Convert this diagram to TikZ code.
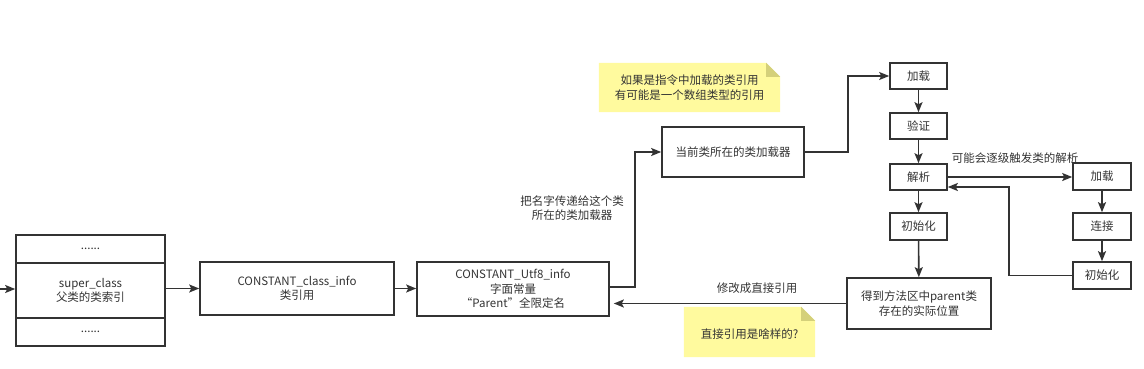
\documentclass[tikz,border=0pt]{standalone}
\usepackage{fontspec}
\setmainfont{Noto Sans CJK SC}
\usetikzlibrary{arrows.meta,positioning,calc}
\definecolor{ink}{HTML}{333333}
\definecolor{noteY}{HTML}{FFFA9E}
\definecolor{noteF}{HTML}{D4D07A}
\begin{document}
\begin{tikzpicture}[x=1pt,y=-1pt,
  every node/.style={font=\fontsize{11.5}{14.5}\selectfont, text=ink, align=center, inner sep=0pt},
  box/.style={draw=ink, line width=1.6pt, fill=white},
  arr/.style={draw=ink, line width=1.6pt, -{Stealth[length=10pt,width=8pt,inset=2pt]}},
  ln/.style={draw=ink, line width=1.6pt}
]
\useasboundingbox (0,0) rectangle (1144,369);

% left stacked box
\node[box, minimum width=149pt, minimum height=28pt] (lt) at (90.5,249) {......};
\node[box, minimum width=149pt, minimum height=55pt] (lm) at (90.5,290.5) {super\_class\\父类的类索引};
\node[box, minimum width=149pt, minimum height=28pt] (lb) at (90.5,332) {......};

\node[box, minimum width=194pt, minimum height=53pt] (ci) at (297,288.5) {CONSTANT\_class\_info\\类引用};
\node[box, minimum width=192pt, minimum height=54pt] (utf) at (513,289) {CONSTANT\_Utf8\_info\\字面常量\\“Parent”全限定名};
\node[box, minimum width=142pt, minimum height=50pt] (cl) at (733,152) {当前类所在的类加载器};

\node[box, minimum width=57pt, minimum height=26pt] (j1) at (918.5,76) {加载};
\node[box, minimum width=57pt, minimum height=26pt] (yz) at (918.5,126) {验证};
\node[box, minimum width=57pt, minimum height=26pt] (jx) at (918.5,177) {解析};
\node[box, minimum width=57pt, minimum height=27pt] (cs) at (918.5,226.5) {初始化};
\node[box, minimum width=144pt, minimum height=51pt] (ff) at (919,303.5) {得到方法区中parent类\\存在的实际位置};

\node[box, minimum width=58pt, minimum height=27pt] (rj) at (1102,176.5) {加载};
\node[box, minimum width=58pt, minimum height=27pt] (lj) at (1102,226.5) {连接};
\node[box, minimum width=58pt, minimum height=27pt] (rc) at (1102,275.5) {初始化};

% notes
\node[minimum width=181pt, minimum height=49pt] (n1) at (689.5,87.5) {};
\fill[noteY] (n1.south west) -- (n1.north west) -- ([xshift=-14pt]n1.north east) -- ([yshift=-14pt]n1.north east) -- (n1.south east) -- cycle;
\fill[noteF] ([xshift=-14pt]n1.north east) -- ([xshift=-14pt,yshift=-14pt]n1.north east) -- ([yshift=-14pt]n1.north east) -- cycle;
\node at (n1.center) {如果是指令中加载的类引用\\有可能是一个数组类型的引用};

\node[minimum width=131pt, minimum height=50pt] (n2) at (749.5,332) {};
\fill[noteY] (n2.south west) -- (n2.north west) -- ([xshift=-14pt]n2.north east) -- ([yshift=-14pt]n2.north east) -- (n2.south east) -- cycle;
\fill[noteF] ([xshift=-14pt]n2.north east) -- ([xshift=-14pt,yshift=-14pt]n2.north east) -- ([yshift=-14pt]n2.north east) -- cycle;
\node at ([yshift=-2pt]n2.center) {直接引用是啥样的?};

% connectors
\coordinate (in) at (0,289);
\draw[arr] (in) -- (in -| lm.west);
\draw[arr] (lm.east |- ci.west) -- (ci.west);
\draw[arr] (ci.east) -- (utf.west |- ci.east);
\draw[arr] ([yshift=2pt]utf.east) -- ++(25,0) |- (cl.west);
\draw[arr] (cl.east) -- ++(43,0) |- (j1.west);
\draw[arr] (j1) -- (yz);
\draw[arr] (yz) -- (jx);
\draw[arr] (jx) -- (cs);
\draw[arr] (cs) -- (ff);
\draw[arr] (jx.east) -- (rj.west |- jx.east);
\draw[arr] (rj) -- (lj);
\draw[arr] (lj) -- (rc);
\draw[arr] (rc.west) -- ++(-63,0) |- ([yshift=-10pt]jx.east);
\draw[arr] (ff.west) -- ([xshift=4pt]utf.east |- ff.west);

% labels
\node at (572,208) {把名字传递给这个类\\所在的类加载器};
\node at (757,288) {修改成直接引用};
\node at (1015,158) {可能会逐级触发类的解析};
\end{tikzpicture}
\end{document}
